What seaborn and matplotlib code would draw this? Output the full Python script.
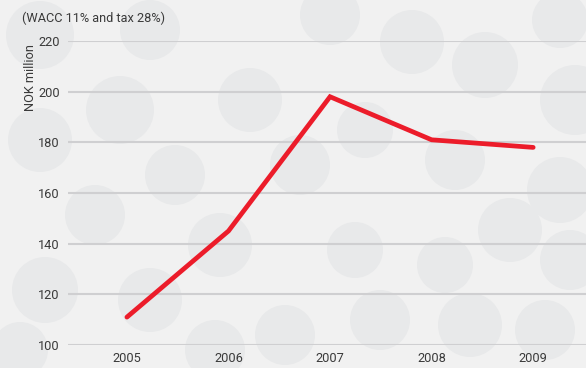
import matplotlib
matplotlib.use("Agg")
import matplotlib.pyplot as plt
import seaborn as sns
import pandas as pd
from matplotlib.patches import Ellipse

years = ["2005", "2006", "2007", "2008", "2009"]
values = [111, 145, 198, 181, 178]
y_ticks = [100, 120, 140, 160, 180, 200, 220]
subtitle = "(WACC 11% and tax 28%)"
y_label = "NOK million"

df = pd.DataFrame({"year": years, "value": values})

sns.set_theme(style="white")
plt.rcParams["font.family"] = ["Roboto", "DejaVu Sans"]

bg = "#f1f1f1"
fig = plt.figure(figsize=(5.86, 3.68), dpi=100, facecolor=bg)

# decorative dotted backdrop on its own full-figure axes, in pixel units
back = fig.add_axes([0, 0, 1, 1], zorder=-10)
back.set_xlim(0, 586)
back.set_ylim(368, 0)
back.axis("off")
dots = [(40, 35, 34), (150, 30, 30), (330, 15, 30), (412, 42, 32), (485, 65, 33),
        (560, 20, 28), (575, 100, 35), (120, 110, 34), (250, 100, 32), (365, 130, 28),
        (455, 160, 30), (560, 190, 33), (40, 140, 32), (175, 175, 30), (300, 165, 30),
        (510, 230, 32), (95, 215, 30), (220, 245, 32), (355, 250, 28), (445, 265, 28),
        (570, 260, 30), (45, 290, 33), (150, 300, 32), (285, 335, 30), (380, 320, 30),
        (470, 325, 32), (545, 330, 30), (215, 350, 30), (20, 350, 28)]
for (cx, cy, r) in dots:
    back.add_patch(Ellipse((cx, cy), 2 * r, 2 * r, facecolor="#e8e9ea",
                           edgecolor="none"))

ax = fig.add_axes([68 / 586, 1 - 345 / 368, (586 - 68) / 586, (345 - 41) / 368])
ax.set_facecolor("none")

sns.lineplot(data=df, x="year", y="value", ax=ax, color="#ec1c2a",
             linewidth=3.4, solid_capstyle="round", solid_joinstyle="miter",
             sort=False, zorder=5)

ax.set_xlim(-0.58, 4.52)
ax.set_ylim(100, 220)
ax.set_yticks(y_ticks)
ax.yaxis.grid(True, color="#cfcfd1", linewidth=1.5)
ax.set_axisbelow(True)
for s in ax.spines.values():
    s.set_visible(False)
ax.tick_params(axis="both", length=0, labelsize=9.2, colors="#3a3a3a")
ax.tick_params(axis="y", pad=6)
ax.tick_params(axis="x", pad=5)
ax.set_xlabel("")
ax.set_ylabel("")

fig.text(22 / 586, 1 - 18 / 368, subtitle, fontsize=9.2, color="#3a3a3a",
         ha="left", va="center")
fig.text(30 / 586, 1 - 78 / 368, y_label, fontsize=9.2, color="#3a3a3a",
         rotation=90, ha="center", va="center")

fig.savefig("out.png", dpi=100, facecolor=bg)
